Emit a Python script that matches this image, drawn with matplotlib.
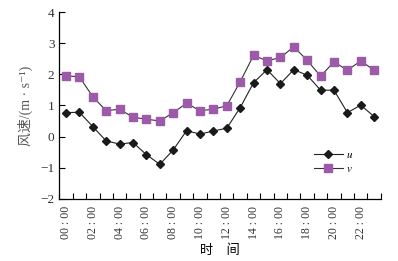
import matplotlib.pyplot as plt
import numpy as np

# 风速分量（逐时）
horas = ['%02d : 00' % h for h in range(24)]
u = [0.77, 0.78, 0.32, -0.14, -0.24, -0.19, -0.58, -0.89, -0.43, 0.19, 0.08, 0.18,
     0.27, 0.93, 1.73, 2.15, 1.70, 2.15, 1.97, 1.49, 1.49, 0.77, 1.01, 0.64]
v = [1.95, 1.92, 1.28, 0.83, 0.88, 0.62, 0.56, 0.50, 0.77, 1.07, 0.83, 0.88,
     0.99, 1.76, 2.61, 2.43, 2.54, 2.88, 2.45, 1.94, 2.40, 2.13, 2.43, 2.13]
yticks = [-2, -1, 0, 1, 2, 3, 4]

plt.rcParams['font.family'] = ['Liberation Serif', 'DejaVu Serif', 'Noto Sans CJK SC']
plt.rcParams['mathtext.fontset'] = 'stix'

fig = plt.figure(figsize=(3.98, 2.61), dpi=100)
ax = fig.add_axes([0.149, 0.238, 0.808, 0.716])

x = np.arange(len(horas))
ax.plot(x, u, color='#222222', lw=0.8, marker='D', ms=4.4,
        mfc='#1a1a1a', mec='#1a1a1a', label='$u$')
ax.plot(x, v, color='#333333', lw=0.8, marker='s', ms=5.6,
        mfc='#9d5aa8', mec='#9d5aa8', label='$v$')

ax.set_xlim(-0.5, 23.5)
ax.set_ylim(-2, 4)
ax.set_yticks(yticks)
ax.set_xticks(x[::2])
ax.set_xticklabels(horas[::2], rotation=90, fontsize=8.5, color='#333333')
ax.set_xticks(np.arange(-0.5, 24, 1), minor=True)
ax.tick_params(axis='x', which='major', length=0, pad=5)
ax.tick_params(axis='x', which='minor', direction='in', length=4, width=0.8)
ax.tick_params(axis='y', direction='in', length=4, width=0.8, labelsize=9.5,
               labelcolor='#333333')

for lado in ['top', 'right']:
    ax.spines[lado].set_visible(False)
for lado in ['left', 'bottom']:
    ax.spines[lado].set_linewidth(0.9)

ax.set_ylabel('风速/(m · s⁻¹)', fontsize=10, color='#555555', labelpad=5)
ax.set_xlabel('时　间', fontsize=9.5, labelpad=4)

ax.legend(loc='lower right', bbox_to_anchor=(0.945, 0.08), frameon=False,
          fontsize=8, handlelength=2.6, handletextpad=0.3, labelspacing=0.35)

plt.savefig('out.png', dpi=100)
